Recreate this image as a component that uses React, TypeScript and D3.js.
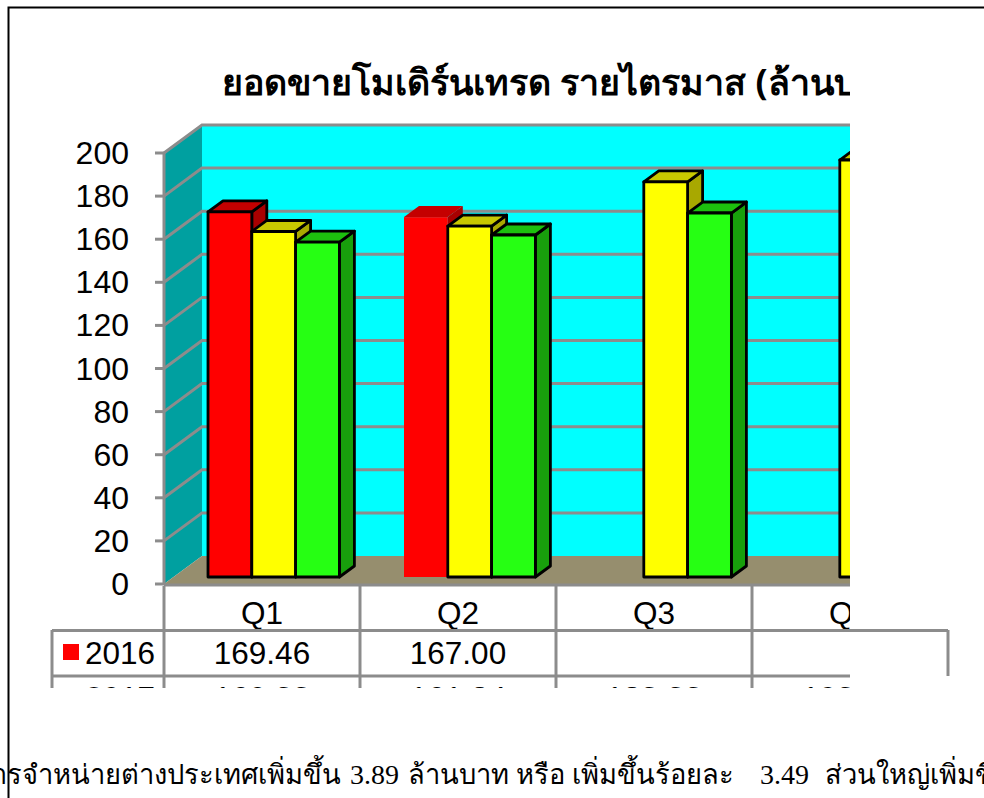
import React from "react";
import * as d3 from "d3";

const quarters = ["Q1", "Q2", "Q3", "Q4"];
const seriesNames = ["2016", "2017", "2018"];
const values2016 = [169.46, 167.0, null, null];
const values2017 = [160.33, 162.84, 183.33, 193.5];
const values2018 = [155.4, 158.7, 168.9, null];
const tableRow1 = ["169.46", "167.00", "", ""];
const tableRow2 = ["160.33", "161.84", "183.33", "193.50"];
const yTicks = d3.range(0, 201, 20);
const title = "ยอดขายโมเดิร์นเทรด รายไตรมาส (ล้านบาท)";
const noteParts = [
  { text: "การจำหน่ายต่างประเทศเพิ่มขึ้น", at: -25, num: false },
  { text: "3.89", at: 350, num: true },
  { text: "ล้านบาท หรือ เพิ่มขึ้นร้อยละ", at: 408, num: false },
  { text: "3.49", at: 760, num: true },
  { text: "ส่วนใหญ่เพิ่มขึ้น", at: 825, num: false },
];

const faces = [
  { front: "#ff0000", top: "#c40000", side: "#a80000" },
  { front: "#ffff00", top: "#c8c800", side: "#a8a800" },
  { front: "#26ff13", top: "#1dc00e", side: "#189f0c" },
];

const SANS = "Liberation Sans, Arial, sans-serif";
const GRID = "#8c8c8c";
const FS = 31.5;

export default function App() {
  const y = d3.scaleLinear().domain([0, 200]).range([584, 153]);
  const x = d3.scaleBand().domain(quarters).range([164, 948]);
  const back = { dx: 38, dy: -28 };
  const barInset = { dx: 9, dy: -7 };
  const depth = { dx: 15, dy: -11 };
  const barW = 43.8;
  const series = [values2016, values2017, values2018];
  const colL = [52, 164, 360, 556, 752, 948];

  return (
    <svg
      width={984}
      height={798}
      style={{ position: "absolute", left: 0, top: 0, background: "#fff" }}
      fontFamily={SANS}
    >
      <defs>
        <clipPath id="chartClip">
          <rect x={0} y={0} width={850} height={688} />
        </clipPath>
      </defs>

      <text x={222} y={95} fontSize={35.8} fontWeight="bold" fill="#000" fontFamily="'Noto Sans', 'DejaVu Sans', sans-serif" clipPath="url(#chartClip)">
        {title}
      </text>

      <g clipPath="url(#chartClip)">
        <rect x={164 + back.dx} y={y(200) + back.dy} width={850} height={y(0) - y(200)} fill="#00ffff" />
        <path
          d={`M164,${y(200)}L${164 + back.dx},${y(200) + back.dy}V${y(0) + back.dy}L164,${y(0)}Z`}
          fill="#00a0a0"
        />
        <path
          d={`M164,${y(0)}L${164 + back.dx},${y(0) + back.dy}H850V${y(0)}Z`}
          fill="#968e6e"
        />
        {yTicks.map((t) => (
          <path
            key={t}
            d={`M164,${y(t)}L${164 + back.dx},${y(t) + back.dy}H850`}
            fill="none"
            stroke={GRID}
            strokeWidth={3}
            opacity={t === 0 ? 0 : 1}
          />
        ))}
        <path d={`M164,${y(0)}V${y(200)}`} stroke={GRID} strokeWidth={3} fill="none" />
        <path d={`M164,${y(0) + 1}H850`} stroke={GRID} strokeWidth={3.2} fill="none" />

        {quarters.map((q, qi) => (
          <g key={q}>
            {series.map((vals, si) => {
              const v = vals[qi];
              if (v == null) return null;
              const x0 = (x(q) as number) + barInset.dx + 35 + si * barW;
              const y0 = y(0) + barInset.dy;
              const top = y0 - (y(0) - y(v));
              const noStroke = qi === 1 && si === 0;
              const stroke = noStroke ? "none" : "#000";
              const f = faces[si];
              return (
                <g key={si} stroke={stroke} strokeWidth={2.8} strokeLinejoin="round">
                  <path
                    d={`M${x0 + barW},${top}L${x0 + barW + depth.dx},${top + depth.dy}V${y0 + depth.dy}L${x0 + barW},${y0}Z`}
                    fill={f.side}
                  />
                  <path
                    d={`M${x0},${top}L${x0 + depth.dx},${top + depth.dy}H${x0 + barW + depth.dx}L${x0 + barW},${top}Z`}
                    fill={f.top}
                  />
                  <rect x={x0} y={top} width={barW} height={y0 - top} fill={f.front} />
                </g>
              );
            })}
          </g>
        ))}

        {yTicks.map((t) => (
          <g key={t}>
            <line x1={155} x2={164} y1={y(t)} y2={y(t)} stroke={GRID} strokeWidth={3} />
            <text x={129} y={y(t) + 11} fontSize={32} textAnchor="end" fill="#000">
              {t}
            </text>
          </g>
        ))}

        <g stroke={GRID} strokeWidth={3} fill="none">
          {[164, 360, 556, 752].map((cx) => (
            <line key={cx} x1={cx} x2={cx} y1={586} y2={688} />
          ))}
          <line x1={52} x2={52} y1={630} y2={688} />
          <line x1={52} x2={850} y1={676} y2={676} />
        </g>
        {quarters.map((q) => (
          <text key={q} x={(x(q) as number) + 98} y={624} fontSize={FS} textAnchor="middle" fill="#000">
            {q}
          </text>
        ))}
        <rect x={63} y={644} width={16} height={16} fill="#ff0000" />
        <text x={85} y={664} fontSize={FS} fill="#000">{seriesNames[0]}</text>
        {tableRow1.map((s, i) => (
          <text key={i} x={colL[i + 1] + 98} y={664} fontSize={FS} textAnchor="middle" fill="#000">{s}</text>
        ))}
        <text x={85} y={709} fontSize={FS} fill="#000">{seriesNames[1]}</text>
        {tableRow2.map((s, i) => (
          <text key={i} x={colL[i + 1] + 98} y={709} fontSize={FS} textAnchor="middle" fill="#000">{s}</text>
        ))}
      </g>

      <g stroke={GRID} strokeWidth={3} fill="none">
        <line x1={52} x2={948} y1={630.5} y2={630.5} />
        <line x1={948} x2={948} y1={630} y2={676} />
      </g>

      {noteParts.map((p) => (
        <text
          key={p.at}
          x={p.at}
          y={784}
          fontSize={p.num ? 28 : 27.3}
          fill="#000"
          fontFamily={p.num ? "'Liberation Serif', serif" : "'Noto Sans', 'DejaVu Serif', serif"}
        >
          {p.text}
        </text>
      ))}

      <path d="M984,7.5H8.5V798" fill="none" stroke="#000" strokeWidth={2} />
    </svg>
  );
}
